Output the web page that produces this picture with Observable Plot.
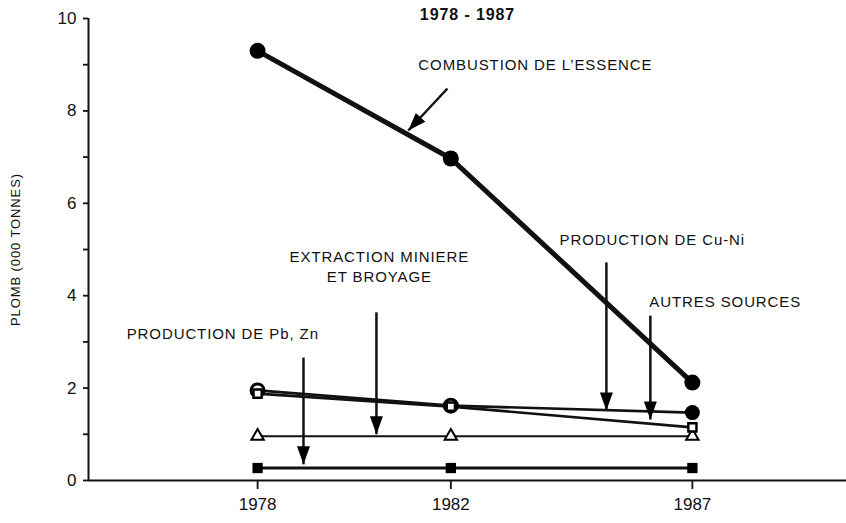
<!DOCTYPE html>
<html>
<head>
<meta charset="utf-8">
<script src="https://cdn.jsdelivr.net/npm/d3@7"></script>
<script src="https://cdn.jsdelivr.net/npm/@observablehq/plot@0.6"></script>
<style>
  body { margin: 0; background: #fff; }
  svg text { font-family: "Liberation Sans", Arial, Helvetica, sans-serif; }
  g[aria-label="text"] text { letter-spacing: 0.9px; }
</style>
</head>
<body>
<div id="chart"></div>
<script>
// ---- data ----
const years = [1978, 1982, 1987];
const combustion = [9.3, 6.97, 2.12];     // COMBUSTION DE L'ESSENCE (filled circles)
const cuNi = [1.95, 1.62, 1.47];          // PRODUCTION DE Cu-Ni (circles)
const autres = [1.88, 1.6, 1.15];         // AUTRES SOURCES (open squares)
const extraction = [0.96, 0.96, 0.96];    // EXTRACTION MINIERE ET BROYAGE (triangles)
const pbZn = [0.27, 0.27, 0.27];          // PRODUCTION DE Pb, Zn (filled squares)
const yTicks = [0, 1, 2, 3, 4, 5, 6, 7, 8, 9, 10];
const titleText = "1978 - 1987";
const yLabelText = "PLOMB (000 TONNES)";

// annotation labels (positions in data units: year, value)
const labelText = ["COMBUSTION DE L\u2019ESSENCE", "PRODUCTION DE Cu-Ni", "AUTRES SOURCES", "EXTRACTION MINIERE\nET BROYAGE", "PRODUCTION DE Pb, Zn"];
const labelX = [1983.75, 1986.17, 1987.68, 1980.52, 1977.28];
const labelY = [9.03, 5.24, 3.90, 4.65, 3.20];

// pointer arrows (tail -> tip, data units)
const arrowX1 = [1981.93, 1985.22, 1986.13, 1980.46, 1978.95];
const arrowY1 = [8.485, 4.72, 3.57, 3.64, 2.66];
const arrowX2 = [1981.12, 1985.22, 1986.13, 1980.46, 1978.95];
const arrowY2 = [7.576, 1.515, 1.32, 1.0, 0.35];

// ---- build tables ----
const series = vals => years.map((x, i) => ({x, y: vals[i]}));
const labels = labelText.map((t, i) => ({t, x: labelX[i], y: labelY[i]}));
const arrows = arrowX1.map((x1, i) => ({x1, y1: arrowY1[i], x2: arrowX2[i], y2: arrowY2[i]}));

function headSymbol(angleDeg, len = 18, half = 6.5) {
  const a = angleDeg * Math.PI / 180, ux = Math.cos(a), uy = Math.sin(a);
  return {
    draw(ctx) {
      const bx = -ux * len, by = -uy * len;
      ctx.moveTo(0, 0);
      ctx.lineTo(bx - uy * half, by + ux * half);
      ctx.lineTo(bx + uy * half, by - ux * half);
      ctx.closePath();
    }
  };
}
const downHead = headSymbol(90);
const diagHead = headSymbol(132.9);

const chart = Plot.plot({
  width: 846,
  height: 523,
  marginLeft: 88,
  marginRight: 0,
  marginTop: 18,
  marginBottom: 43,
  style: {fontFamily: "Liberation Sans, Arial, sans-serif", fontSize: "17px", color: "#111", background: "#fff", overflow: "visible"},
  x: {domain: [1974.5, 1990.19]},
  y: {domain: [0, 10]},
  marks: [
    Plot.axisX({ticks: years, tickFormat: d => String(d), tickSize: 9, tickPadding: 8, strokeWidth: 1.8, label: null, fontSize: 17}),
    Plot.axisY({ticks: yTicks, tickFormat: d => d % 2 ? "" : String(d), tickSize: 5, tickPadding: 7, strokeWidth: 1.8, label: null, fontSize: 17}),
    Plot.ruleY([0], {strokeWidth: 2}),
    Plot.ruleX([1974.5], {strokeWidth: 2}),

    // series lines
    Plot.line(series(pbZn), {x: "x", y: "y", strokeWidth: 3}),
    Plot.line(series(extraction), {x: "x", y: "y", strokeWidth: 2}),
    Plot.line(series(autres), {x: "x", y: "y", strokeWidth: 2.6}),
    Plot.line(series(cuNi), {x: "x", y: "y", strokeWidth: 2.6}),
    Plot.line(series(combustion), {x: "x", y: "y", strokeWidth: 5}),

    // markers
    Plot.dot(series(pbZn), {x: "x", y: "y", symbol: "square", r: 5.8, fill: "black"}),
    Plot.dot(series(extraction), {x: "x", y: "y", symbol: "triangle", r: 4.6, fill: "white", stroke: "black", strokeWidth: 2}),
    Plot.dot(series(cuNi), {x: "x", y: "y", filter: d => d.x !== 1987, r: 6.5, fill: "white", stroke: "black", strokeWidth: 3}),
    Plot.dot(series(cuNi), {x: "x", y: "y", filter: d => d.x === 1987, r: 7.5, fill: "black"}),
    Plot.dot(series(autres), {x: "x", y: "y", symbol: "square", r: 4.6, fill: "white", stroke: "black", strokeWidth: 2.4}),
    Plot.dot(series(combustion), {x: "x", y: "y", r: 8, fill: "black"}),

    // pointer arrows
    Plot.link(arrows, {x1: "x1", y1: "y1", x2: "x2", y2: "y2", strokeWidth: 2.5}),
    Plot.dot(arrows.slice(0, 1), {x: "x2", y: "y2", symbol: diagHead, fill: "black", stroke: "none"}),
    Plot.dot(arrows.slice(1), {x: "x2", y: "y2", symbol: downHead, fill: "black", stroke: "none"}),

    // annotation labels
    Plot.text(labels, {x: "x", y: "y", text: "t", fontSize: 15, lineHeight: 1.33, fill: "#111"}),

    // title and y label
    Plot.text([titleText], {frameAnchor: "top", dy: -10, fontSize: 16, fontWeight: "bold", fill: "#111"}),
    Plot.text([yLabelText], {frameAnchor: "left", textAnchor: "middle", rotate: -90, dx: -73, dy: 0, fontSize: 13, fill: "#111"})
  ]
});
document.getElementById("chart").appendChild(chart);
</script>
</body>
</html>
